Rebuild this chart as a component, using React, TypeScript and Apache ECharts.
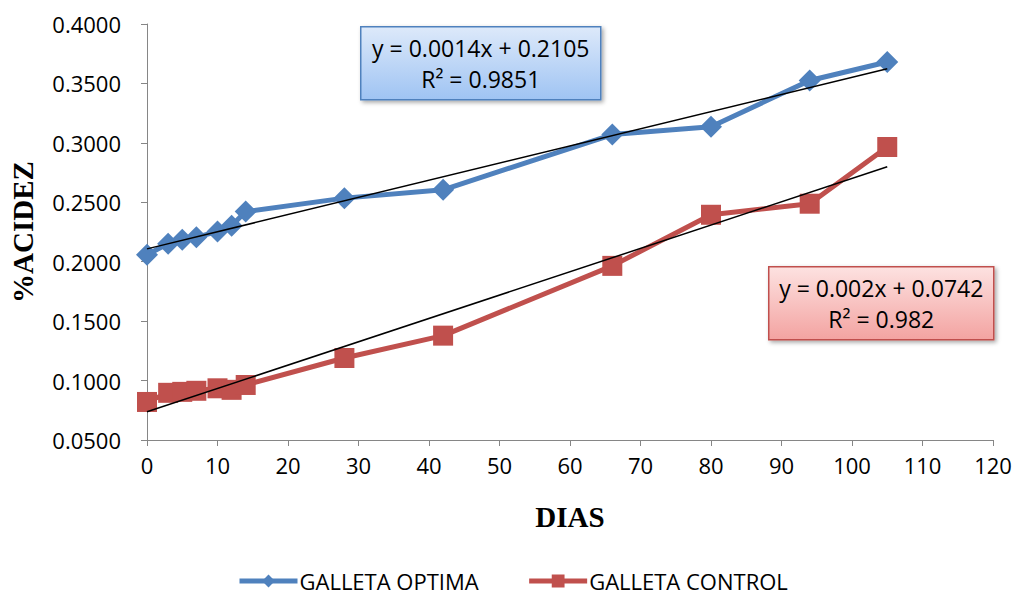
import React, { useEffect, useRef } from "react";
import * as echarts from "echarts";

const days = [0, 3, 5, 7, 10, 12, 14, 28, 42, 66, 80, 94, 105];
const optima = [0.2058, 0.2152, 0.2185, 0.2205, 0.2255, 0.2302, 0.2422, 0.2535, 0.2605, 0.3070, 0.3135, 0.3525, 0.3680];
const control = [0.0820, 0.0897, 0.0905, 0.0914, 0.0935, 0.0922, 0.0963, 0.1190, 0.1378, 0.1965, 0.2395, 0.2488, 0.2965];
const seriesNames = ["GALLETA OPTIMA", "GALLETA CONTROL"];
const eqOptima = ["y = 0.0014x + 0.2105", "R² = 0.9851"];
const eqControl = ["y = 0.002x + 0.0742", "R² = 0.982"];

function fit(xs: number[], ys: number[]) {
  const n = xs.length;
  const mx = xs.reduce((a, b) => a + b, 0) / n;
  const my = ys.reduce((a, b) => a + b, 0) / n;
  let sxy = 0, sxx = 0;
  for (let i = 0; i < n; i++) {
    sxy += (xs[i] - mx) * (ys[i] - my);
    sxx += (xs[i] - mx) * (xs[i] - mx);
  }
  const b = sxy / sxx;
  const a = my - b * mx;
  const x0 = xs[0], x1 = xs[n - 1];
  return [[x0, a + b * x0], [x1, a + b * x1]];
}

const FONT = "'Open Sans', 'Noto Sans', sans-serif";

export default function App() {
  const ref = useRef<HTMLDivElement>(null);
  useEffect(() => {
    if (!ref.current) return;
    const chart = echarts.init(ref.current, undefined, { renderer: "svg" });
    const box = (x: number, y: number, w: number, h: number, c1: string, c2: string, border: string, lines: string[]) => ({
      type: "group",
      left: x,
      top: y,
      children: [
        {
          type: "rect",
          shape: { x: 0, y: 0, width: w, height: h },
          style: {
            fill: new echarts.graphic.LinearGradient(0, 0, 0, 1, [
              { offset: 0, color: c1 },
              { offset: 1, color: c2 },
            ]),
            stroke: border,
            lineWidth: 1.5,
            shadowBlur: 4,
            shadowOffsetX: 2,
            shadowOffsetY: 2,
            shadowColor: "rgba(0,0,0,0.35)",
          },
        },
        {
          type: "text",
          x: w / 2,
          y: h * 0.29,
          style: { text: lines[0], fill: "#000", font: `23px ${FONT}`, align: "center", verticalAlign: "middle" },
        },
        {
          type: "text",
          x: w / 2,
          y: h * 0.71,
          style: { text: lines[1], fill: "#000", font: `23px ${FONT}`, align: "center", verticalAlign: "middle" },
        },
      ],
    });
    const option: any = {
      animation: false,
      backgroundColor: "#fff",
      grid: { left: 145, right: 23, top: 24, bottom: 157, containLabel: false },
      legend: {
        left: 232,
        top: 565,
        itemWidth: 58,
        itemHeight: 16,
        itemGap: 48,
        data: seriesNames,
        lineStyle: { width: 5 },
        textStyle: { fontFamily: FONT, fontSize: 22, color: "#000", padding: [0, 0, 0, -3] },
      },
      xAxis: {
        type: "value",
        min: 0,
        max: 120,
        interval: 10,
        name: "DIAS",
        nameLocation: "middle",
        nameGap: 62,
        nameTextStyle: { fontFamily: "'Liberation Serif', serif", fontWeight: "bold", fontSize: 29, color: "#000" },
        axisLine: { show: true, lineStyle: { color: "#868686", width: 1 } },
        axisTick: { show: true, length: 6, lineStyle: { color: "#868686" } },
        axisLabel: { fontFamily: FONT, fontSize: 22, color: "#000", margin: 14 },
        splitLine: { show: false },
      },
      yAxis: {
        type: "value",
        min: 0.05,
        max: 0.4,
        interval: 0.05,
        name: "%ACIDEZ",
        nameLocation: "middle",
        nameGap: 110,
        nameTextStyle: { fontFamily: "'Liberation Serif', serif", fontWeight: "bold", fontSize: 29, color: "#000" },
        axisLine: { show: true, lineStyle: { color: "#868686", width: 1 } },
        axisTick: { show: true, length: 6, lineStyle: { color: "#868686" } },
        axisLabel: {
          fontFamily: FONT,
          fontSize: 22,
          color: "#000",
          margin: 26,
          formatter: (v: number) => v.toFixed(4),
        },
        splitLine: { show: false },
      },
      series: [
        {
          name: seriesNames[0],
          type: "line",
          data: days.map((d, i) => [d, optima[i]]),
          symbol: "diamond",
          symbolSize: 22,
          itemStyle: { color: "#4F81BD" },
          lineStyle: { color: "#4F81BD", width: 5 },
          z: 2,
        },
        {
          name: seriesNames[1],
          type: "line",
          data: days.map((d, i) => [d, control[i]]),
          symbol: "rect",
          symbolSize: 20,
          itemStyle: { color: "#C0504D" },
          lineStyle: { color: "#C0504D", width: 5 },
          z: 2,
        },
        {
          name: "trend1",
          type: "line",
          data: fit(days, optima),
          symbol: "none",
          lineStyle: { color: "#000", width: 1.5 },
          z: 3,
          silent: true,
        },
        {
          name: "trend2",
          type: "line",
          data: fit(days, control),
          symbol: "none",
          lineStyle: { color: "#000", width: 1.5 },
          z: 3,
          silent: true,
        },
      ],
      graphic: [
        box(360, 26, 240, 73, "#dde9fa", "#9fc4f3", "#4F81BD", eqOptima),
        box(768, 266, 225, 73, "#fde2e1", "#f3a3a1", "#C0504D", eqControl),
      ],
    };
    chart.setOption(option);
    return () => chart.dispose();
  }, []);
  return <div ref={ref} style={{ position: "fixed", left: 0, top: 0, width: 1016, height: 597 }} />;
}
